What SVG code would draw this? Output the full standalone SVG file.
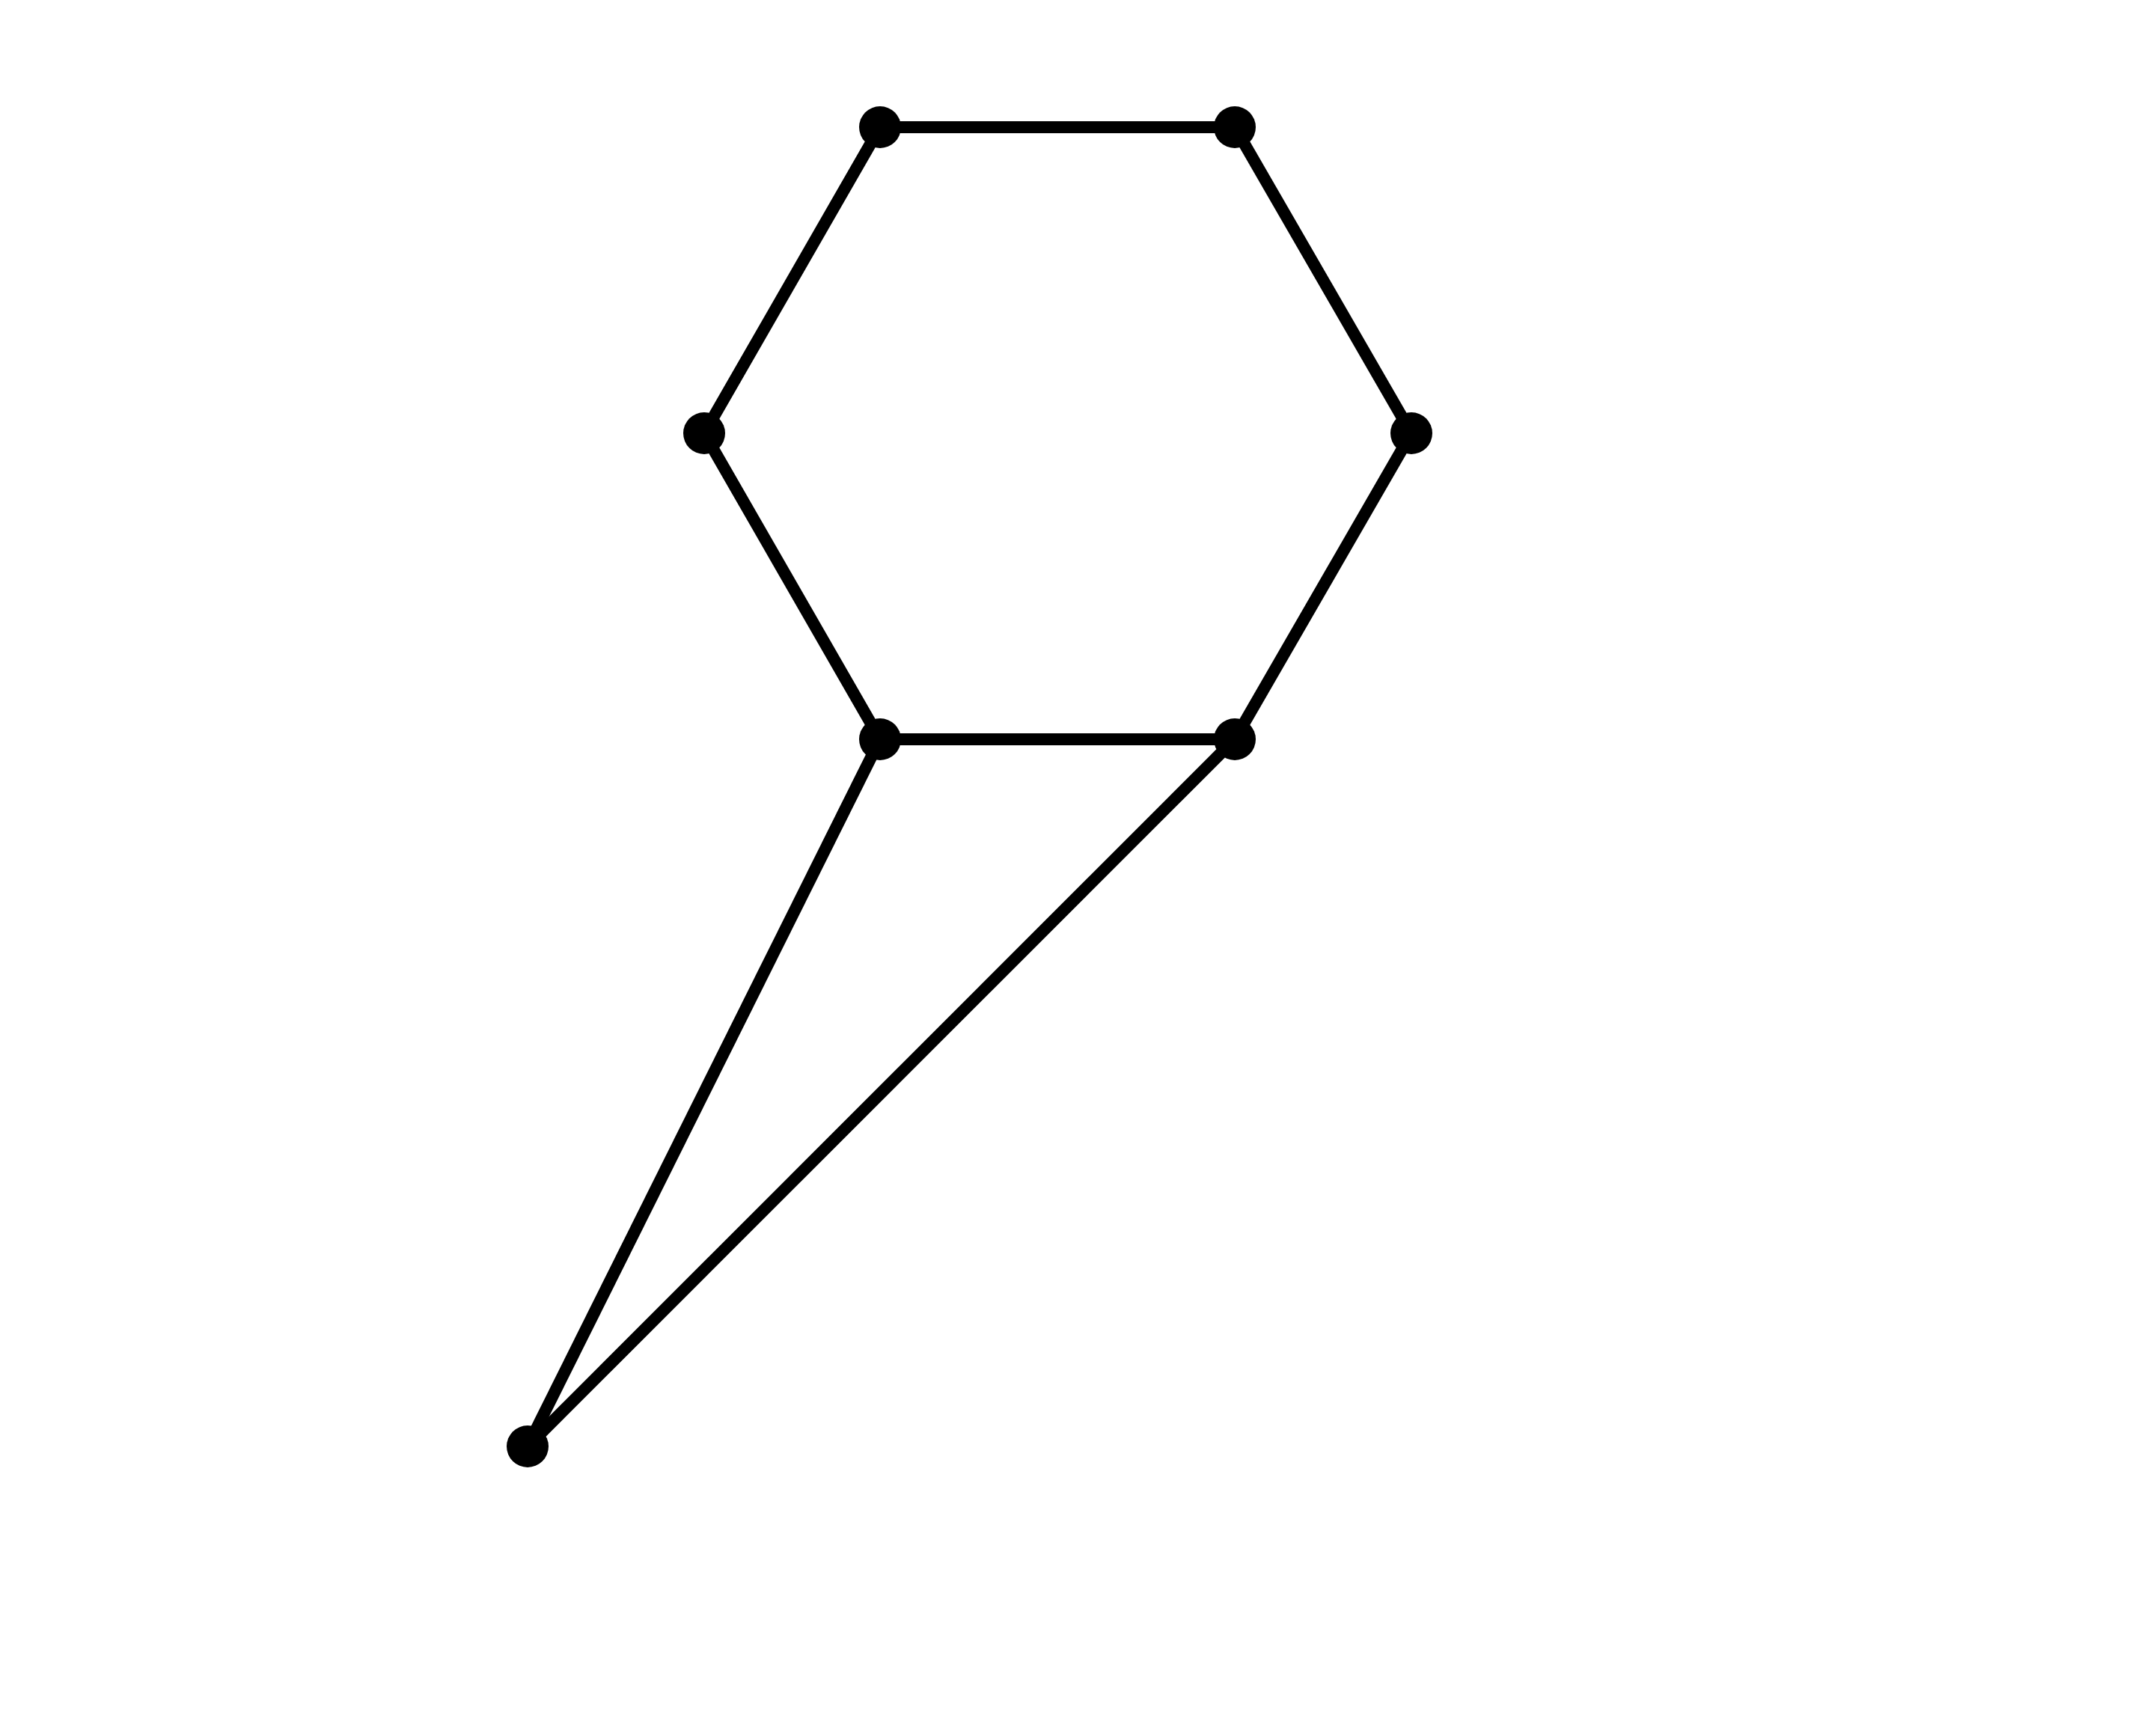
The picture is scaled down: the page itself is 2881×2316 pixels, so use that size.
<svg xmlns="http://www.w3.org/2000/svg" width="2881" height="2316" viewBox="0 0 2881 2316">
<style>
.edge{stroke:#000;stroke-width:16;fill:none;stroke-linecap:butt}
.node{fill:#000}
</style>
<rect width="2881" height="2316" fill="#fff"/>
<g id="connectors">
<line class="edge" x1="1176" y1="170" x2="1650" y2="170"/>
<line class="edge" x1="1176" y1="170" x2="941" y2="579"/>
<line class="edge" x1="1650" y1="170" x2="1886" y2="579"/>
<line class="edge" x1="941" y1="579" x2="1176" y2="988"/>
<line class="edge" x1="1886" y1="579" x2="1650" y2="988"/>
<line class="edge" x1="1176" y1="988" x2="1650" y2="988"/>
<line class="edge" x1="1176" y1="988" x2="705" y2="1933"/>
<line class="edge" x1="1650" y1="988" x2="705" y2="1933"/>
</g>
<g id="nA"><circle class="node" cx="1176" cy="170" r="28"/></g>
<g id="nB"><circle class="node" cx="1650" cy="170" r="28"/></g>
<g id="nC"><circle class="node" cx="941" cy="579" r="28"/></g>
<g id="nD"><circle class="node" cx="1886" cy="579" r="28"/></g>
<g id="nE"><circle class="node" cx="1176" cy="988" r="28"/></g>
<g id="nF"><circle class="node" cx="1650" cy="988" r="28"/></g>
<g id="nG"><circle class="node" cx="705" cy="1933" r="28"/></g>
</svg>
